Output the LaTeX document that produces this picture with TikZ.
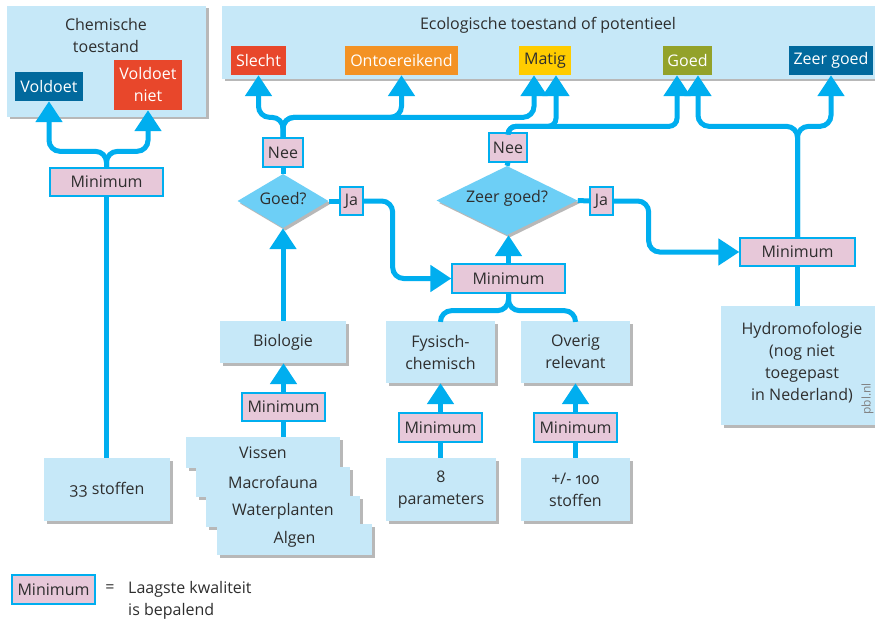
\documentclass[tikz,border=0pt]{standalone}
\usepackage{fontspec}
\setmainfont{Open Sans}
\usetikzlibrary{arrows.meta,shapes.geometric,shadows}
\definecolor{cyanl}{HTML}{00AEEF}
\definecolor{lightb}{HTML}{C6E8F8}
\definecolor{pinkb}{HTML}{E7C8D9}
\definecolor{diamc}{HTML}{6DCFF6}
\definecolor{shadowc}{HTML}{B8B8B8}
\definecolor{txt}{HTML}{2E2E2E}
\definecolor{dblue}{HTML}{01699D}
\definecolor{redc}{HTML}{E8472B}
\definecolor{orangec}{HTML}{F39224}
\definecolor{yellowc}{HTML}{FFCC00}
\definecolor{olivec}{HTML}{93A22A}
\newcommand{\oldnum}{\addfontfeatures{Numbers=OldStyle}}
\tikzset{
  conn/.style={draw=cyanl, line width=5pt, rounded corners=11pt},
  arr/.style={conn, -{Triangle[width=26pt,length=21pt]}},
  shad/.style={drop shadow={shadow xshift=2.5pt,shadow yshift=-2.5pt,fill=shadowc,opacity=1}},
  lbox/.style={fill=lightb, shad, inner sep=0pt, align=center, text=txt},
  mini/.style={fill=pinkb, draw=cyanl, line width=1.3pt, inner sep=0pt, minimum height=28pt, text=txt},
  lab/.style={inner sep=0pt, minimum height=29pt, text=white, align=center},
  diam/.style={diamond, fill=diamc, shad, inner sep=0pt},
}
\begin{document}
\begin{tikzpicture}[x=1pt,y=-1pt,font=\fontsize{16}{22}\selectfont]
\useasboundingbox (0,0) rectangle (875,623);
\fill[white] (0,0) rectangle (875,623);

% panels
\node[lbox, minimum width=199pt, minimum height=111pt] (chempanel) at (106.5,61.5) {};
\node[text=txt, align=center] (chemtitle) at (106,36) {Chemische\\toestand};
\node[lbox, minimum width=660pt, minimum height=73pt] (ecopanel) at (552,42.5) {};
\node[text=txt] (ecotitle) at (548,25) {Ecologische toestand of potentieel};

% status labels
\node[lab, fill=dblue, minimum width=68pt] (voldoet) at (49,86.5) {Voldoet};
\node[lab, fill=redc, minimum width=68pt, minimum height=50pt] (voldniet) at (148,85) {Voldoet\\niet};
\node[lab, fill=redc, minimum width=55pt] (slecht) at (258.5,60.5) {Slecht};
\node[lab, fill=orangec, minimum width=113pt] (ontoer) at (401.5,60.5) {Ontoereikend};
\node[lab, fill=yellowc, minimum width=52pt, text=txt] (matig) at (545,60.5) {Matig};
\node[lab, fill=olivec, minimum width=49pt] (goed) at (687.5,60.5) {Goed};
\node[lab, fill=dblue, minimum width=84pt] (zeergoed) at (831,60.5) {Zeer goed};
\coordinate (matigA) at ([xshift=-11pt]matig.south);
\coordinate (matigB) at ([xshift=11pt]matig.south);
\coordinate (goedA) at ([xshift=-10.5pt]goed.south);
\coordinate (goedB) at ([xshift=10.5pt]goed.south);

% light boxes
\node[lbox, minimum width=126pt, minimum height=63pt] (s33) at (107,489.5) {{\oldnum 33} stoffen};
\node[lbox, minimum width=126pt, minimum height=42pt] (bio) at (283,342) {Biologie};
\node[lbox, minimum width=109pt, minimum height=62pt] (fys) at (440.5,352) {Fysisch-\\chemisch};
\node[lbox, minimum width=109pt, minimum height=62pt] (ov) at (575.5,352) {Overig\\relevant};
\node[lbox, minimum width=110pt, minimum height=63pt] (par8) at (441,489.5) {8\\parameters};
\node[lbox, minimum width=109pt, minimum height=63pt] (s100) at (575.5,489.5) {+/- {\oldnum 100}\\stoffen};
\node[lbox, minimum width=162pt, minimum height=119pt] (hydro) at (802,365.5) {};
\node[text=txt, align=center] (hydrotext) at (802,363) {Hydromofologie\\(nog niet\\toegepast\\in Nederland)};
\node[text=shadowc!70!black, font=\fontsize{12}{12}\selectfont, rotate=90] (pbl) at (867.5,399) {pbl.nl};

\node[lbox, minimum width=154pt, minimum height=31pt] (vissen) at (263,452.5) {Vissen};
\node[lbox, minimum width=154pt, minimum height=30pt] (macro) at (273,482) {Macrofauna};
\node[lbox, minimum width=154pt, minimum height=31pt] (water) at (283,511.5) {Waterplanten};
\node[lbox, minimum width=155pt, minimum height=31pt] (algen) at (294.5,539.5) {Algen};

% diamonds
\node[diam, minimum width=91pt, minimum height=54pt] (goedD) at (283,201) {};
\node[text=txt] (goedDt) at (283,199) {Goed?};
\node[diam, minimum width=141pt, minimum height=69pt] (zeerD) at (507,200.5) {};
\node[text=txt] (zeerDt) at (507,198.5) {Zeer goed?};

% minimum / yes-no boxes
\node[mini, minimum width=113pt] (minC) at (106.5,182) {Minimum};
\node[mini, minimum width=83pt] (minB) at (283.5,407) {Minimum};
\node[mini, minimum width=83pt, minimum height=29pt] (minF) at (440.5,427.5) {Minimum};
\node[mini, minimum width=83pt, minimum height=29pt] (minO) at (575.5,427.5) {Minimum};
\node[mini, minimum width=113pt, minimum height=29pt] (minM) at (508.5,278.5) {Minimum};
\node[mini, minimum width=115pt] (minH) at (797.5,252) {Minimum};
\node[mini, minimum width=40pt, minimum height=29pt] (neeL) at (283,152.5) {Nee};
\node[mini, minimum width=23pt] (jaL) at (351.5,201) {Ja};
\node[mini, minimum width=38pt, minimum height=29pt] (neeR) at (508,147.5) {Nee};
\node[mini, minimum width=23pt] (jaR) at (601.5,201) {Ja};

% connectors
\draw[conn] (minC.south) -- (minC.south |- s33.north);
\draw[arr] (minC.north) -- ++(0,-16) -| (voldoet.south);
\draw[arr] (minC.north) -- ++(0,-16) -| (voldniet.south);

\draw[arr] (neeL.north) -- ++(0,-20) -| (slecht.south);
\draw[arr] (neeL.north) -- ++(0,-20) -| (ontoer.south);
\draw[arr] (neeL.north) -- ++(0,-20) -| (matigA);
\draw[conn] (goedD.north) -- (neeL.south);

\draw[arr, rounded corners=8pt] (neeR.north) -- ++(0,-6) -| (matigB);
\draw[arr, rounded corners=8pt] (neeR.north) -- ++(0,-6) -| (goedA);
\draw[conn] (zeerD.north) -- (neeR.south);

\draw[arr] (minH.north) -- ++(0,-111) -| (goedB);
\draw[arr] (minH.north) -- ++(0,-111) -| (zeergoed.south);
\draw[conn] (minH.south) -- (minH.south |- hydro.north);

\draw[conn] (goedD.east) -- (jaL.west);
\draw[arr] (jaL.east) -- ++(29,0) |- (minM.west);
\draw[conn] (zeerD.east) -- (jaR.west);
\draw[arr] (jaR.east) -- ++(35,0) |- (minH.west);

\draw[arr] (bio.north) -- (goedD.south);
\draw[arr] (minM.north) -- (minM.north |- zeerD.south);
\draw[conn] (minM.south) -- ++(0,17) -| (fys.north);
\draw[conn] (minM.south) -- ++(0,17) -| (ov.north);

\draw[arr] (minB.north) -- (minB.north |- bio.south);
\draw[conn] (minB.south) -- (minB.south |- vissen.north);
\draw[arr] (minF.north) -- (fys.south);
\draw[conn] (minF.south) -- (minF.south |- par8.north);
\draw[arr] (minO.north) -- (ov.south);
\draw[conn] (minO.south) -- (minO.south |- s100.north);

% legend
\node[mini, minimum width=83pt, minimum height=29pt] (minL) at (53.5,589.5) {Minimum};
\node[text=txt] (eq) at (110,589) {=};
\node[text=txt, align=left, anchor=west, inner sep=0pt] (legtext) at (128,600) {Laagste kwaliteit\\is bepalend};
\end{tikzpicture}
\end{document}
